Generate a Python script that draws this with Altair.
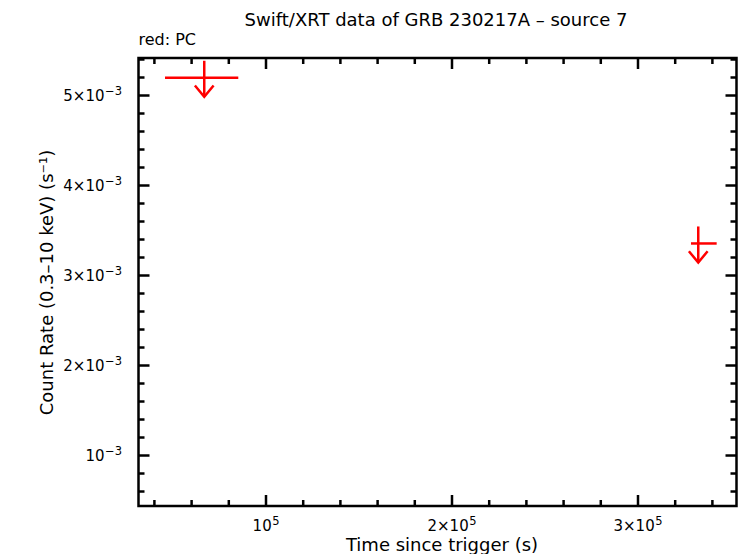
import altair as alt
import pandas as pd

# ---- data ----
t_mid   = [66800, 332400]
t_start = [45700, 328500]
t_stop  = [85100, 342300]
rate_ul = [0.005197, 0.003356]

x_major = [100000, 200000, 300000]
x_base  = ["10", "2×10", "3×10"]
x_sup   = ["5", "5", "5"]
x_minor = [40000, 60000, 80000, 120000, 140000, 160000, 180000, 220000, 240000,
           260000, 280000, 320000, 340000]
y_major = [0.001, 0.002, 0.003, 0.004, 0.005]
y_base  = ["10", "2×10", "3×10", "4×10", "5×10"]
y_sup   = ["−3", "−3", "−3", "−3", "−3"]
y_minor = [0.0006, 0.0008, 0.0012, 0.0014, 0.0016, 0.0018, 0.0022, 0.0024, 0.0026,
           0.0028, 0.0032, 0.0034, 0.0036, 0.0038, 0.0042, 0.0044, 0.0046, 0.0048,
           0.0052, 0.0054]

title_text = "Swift/XRT data of GRB 230217A – source 7"
legend_text = "red: PC"
x_title = "Time since trigger (s)"
y_title = "Count Rate (0.3–10 keV) (s⁻¹)"

X_DOMAIN = [31450, 352960]
Y_DOMAIN = [0.000439, 0.0054167]

W, H = 598, 448
FONT = "DejaVu Sans"
RED = "#ff0000"
LW = 2.5
LBL = 15     # tick label size
SUP = 11.5   # superscript size

df = pd.DataFrame({"t": t_mid, "t0": t_start, "t1": t_stop, "rate": rate_ul})
xdf = pd.DataFrame({"v": x_major, "base": x_base, "sup": x_sup})
ydf = pd.DataFrame({"v": y_major, "base": y_base, "sup": y_sup})

xs = alt.Scale(domain=X_DOMAIN, nice=False, zero=False)
ys = alt.Scale(domain=Y_DOMAIN, nice=False, zero=False)

x_axis = alt.Axis(values=x_major, ticks=False, tickSize=0, domain=False, grid=False, labels=False,
                  titleFontSize=18, titleFont=FONT, titleFontWeight="normal",
                  titleColor="black", titleBaseline="alphabetic", titleY=44, titleX=303)
y_axis = alt.Axis(values=y_major, ticks=False, tickSize=0, domain=False, grid=False, labels=False,
                  titleFontSize=18, titleFont=FONT, titleFontWeight="normal",
                  titleColor="black", titleBaseline="alphabetic", titleX=-86, titleY=H / 2)

def X(field):
    return alt.X(field, scale=xs, title=x_title, axis=x_axis)

def Y(field):
    return alt.Y(field, scale=ys, title=y_title, axis=y_axis)

hbar = alt.Chart(df).mark_rule(color=RED, strokeWidth=LW).encode(
    x=X("t0:Q"), x2="t1:Q", y=Y("rate:Q"))
vbar = alt.Chart(df).mark_rule(color=RED, strokeWidth=LW, yOffset=-17, y2Offset=19).encode(
    x=X("t:Q"), y=Y("rate:Q"), y2="rate:Q")
head = alt.Chart(df).mark_point(shape="M -1 -1.2 L 0 0 L 1 -1.2", size=350, filled=False,
                                color=RED, strokeWidth=LW, opacity=1, yOffset=19).encode(
    x=X("t:Q"), y=Y("rate:Q"))

def xticks(vals, length):
    d = pd.DataFrame({"v": vals})
    bottom = alt.Chart(d).mark_rule(color="black", strokeWidth=LW).encode(
        x=X("v:Q"), y=alt.value(H), y2=alt.value(H - length))
    top = alt.Chart(d).mark_rule(color="black", strokeWidth=LW).encode(
        x=X("v:Q"), y=alt.value(0), y2=alt.value(length))
    return [bottom, top]

def yticks(vals, length):
    d = pd.DataFrame({"v": vals})
    left = alt.Chart(d).mark_rule(color="black", strokeWidth=LW).encode(
        y=Y("v:Q"), x=alt.value(0), x2=alt.value(length))
    right = alt.Chart(d).mark_rule(color="black", strokeWidth=LW).encode(
        y=Y("v:Q"), x=alt.value(W), x2=alt.value(W - length))
    return [left, right]

# ---- tick labels with real superscripts ----
txt = dict(font=FONT, color="black")
ylab_base = alt.Chart(ydf).mark_text(fontSize=LBL, align="right", baseline="middle", **txt).encode(
    x=alt.value(-34), y=Y("v:Q"), text="base:N")
ylab_sup = alt.Chart(ydf).mark_text(fontSize=SUP, align="left", baseline="alphabetic", dy=-1,
                                    **txt).encode(
    x=alt.value(-33.5), y=Y("v:Q"), text="sup:N")

def xlab(cond, shift):
    b = alt.Chart(xdf).transform_filter(cond).mark_text(
        fontSize=LBL, align="right", baseline="alphabetic", dx=shift, **txt).encode(
        x=X("v:Q"), y=alt.value(H + 24.5), text="base:N")
    s = alt.Chart(xdf).transform_filter(cond).mark_text(
        fontSize=SUP, align="left", baseline="alphabetic", dx=shift + 0.5, **txt).encode(
        x=X("v:Q"), y=alt.value(H + 19), text="sup:N")
    return [b, s]

xlabels = xlab(alt.datum.v == 100000, 5.7) + xlab(alt.datum.v != 100000, 16.7)

title = alt.Chart(pd.DataFrame({"s": [title_text]})).mark_text(
    font=FONT, fontSize=18, align="center", baseline="alphabetic", color="black").encode(
    x=alt.value(297.5), y=alt.value(-32), text="s:N")
leg = alt.Chart(pd.DataFrame({"s": [legend_text]})).mark_text(
    font=FONT, fontSize=16, align="left", baseline="alphabetic", color="black").encode(
    x=alt.value(0), y=alt.value(-13), text="s:N")

layers = (xticks(x_major, 11) + xticks(x_minor, 6) + yticks(y_major, 11) + yticks(y_minor, 6)
          + [ylab_base, ylab_sup] + xlabels
          + [vbar, hbar, head, title, leg])

chart = alt.layer(*layers).properties(
    width=W, height=H,
    autosize=alt.AutoSizeParams(type="none"),
    padding={"left": 130.5, "top": 50, "right": 1.5, "bottom": 48},
    background="white",
).configure_view(stroke="black", strokeWidth=LW)

chart.save("out.html", embed_options={"renderer": "svg", "actions": False})
